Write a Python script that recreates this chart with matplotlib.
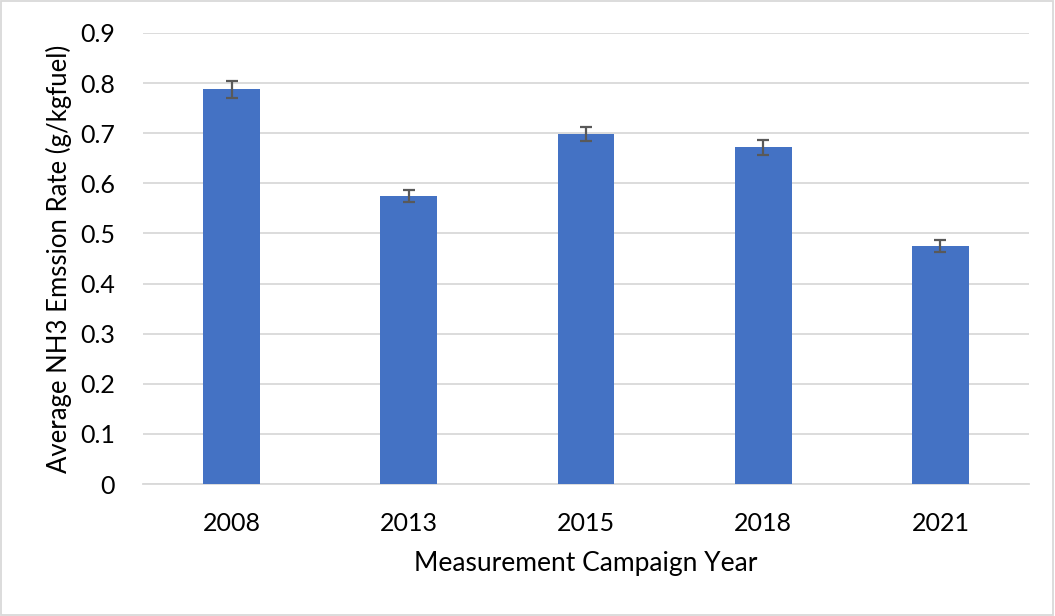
import numpy as np
import matplotlib.pyplot as plt
from matplotlib.patches import Rectangle

years = ["2008", "2013", "2015", "2018", "2021"]
rates = [0.788, 0.575, 0.699, 0.672, 0.475]
errs = [0.017, 0.012, 0.014, 0.015, 0.012]

plt.rcParams['font.family'] = ['Lato', 'DejaVu Sans']

fig = plt.figure(figsize=(10.55, 6.16), dpi=100)
ax = fig.add_axes([143/1055, 1-484/616, 886/1055, 451/616])

x = np.arange(len(years))
ax.bar(x, rates, width=0.32, color='#4472C4', zorder=3)
ax.errorbar(x, rates, yerr=errs, fmt='none', ecolor='#595959',
            elinewidth=1.6, capsize=4.5, capthick=1.6, zorder=4)

ax.set_xlim(-0.5, len(years) - 0.5)
ax.set_ylim(0, 0.9)
ax.set_yticks(np.arange(0, 0.91, 0.1))
ax.set_yticklabels(["0"] + ["%.1f" % v for v in np.arange(0.1, 0.91, 0.1)])
ax.set_xticks(x)
ax.set_xticklabels(years)
ax.yaxis.grid(True, color='#d9d9d9', linewidth=1.3, zorder=0)
for s in ['top', 'right', 'left']:
    ax.spines[s].set_visible(False)
ax.spines['bottom'].set_color('#d9d9d9')
ax.spines['bottom'].set_linewidth(1.3)
ax.tick_params(axis='both', length=0, labelsize=18, colors='black')
ax.tick_params(axis='x', pad=20)
ax.tick_params(axis='y', pad=20)

ax.set_xlabel("Measurement Campaign Year", fontsize=19, labelpad=12)
ax.set_ylabel("Average NH3 Emssion Rate (g/kgfuel)", fontsize=18.5, labelpad=6)

fig.patches.append(Rectangle((0.001, 0.001), 0.997, 0.997, transform=fig.transFigure,
                             fill=False, edgecolor='#d9d9d9', linewidth=1.3))

fig.savefig("out.png", dpi=100)
